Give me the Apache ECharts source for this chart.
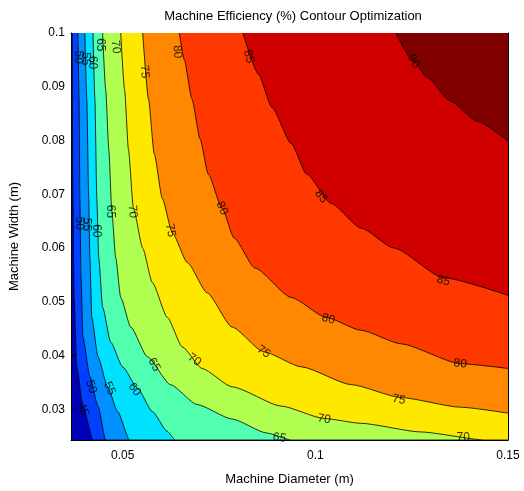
<!DOCTYPE html>
<html><head><meta charset="utf-8">
<script src="https://cdn.jsdelivr.net/npm/echarts@6/dist/echarts.min.js"></script>
<style>html,body{margin:0;background:#fff}#c{width:524px;height:491px}</style>
</head><body><div id="c"></div>
<script>
// Axis ranges and ticks (metres)
const xRange = [0.0366, 0.15];
const yRange = [0.0243, 0.1];
const xTicks = [0.05, 0.1, 0.15];
const yTicks = [0.03, 0.04, 0.05, 0.06, 0.07, 0.08, 0.09, 0.1];

// Contour levels (efficiency %)
const levels = [45, 50, 55, 60, 65, 70, 75, 80, 85, 90];

// Contour lines: [diameter, width]
const c45 = [[0.0369,0.1],[0.0371,0.0692],[0.0374,0.0508],[0.0381,0.0379],[0.0397,0.0306],[0.0423,0.0243]];
const c50 = [[0.0384,0.1],[0.0387,0.0877],[0.0389,0.0692],[0.0392,0.0545],[0.0397,0.0434],[0.0415,0.0361],[0.0436,0.0306],[0.0456,0.0243]];
const c55 = [[0.0402,0.1],[0.0407,0.0877],[0.0412,0.0692],[0.0415,0.0582],[0.0420,0.0471],[0.0436,0.0398],[0.0461,0.0342],[0.0487,0.0296],[0.0518,0.0243]];
const c60 = [[0.0423,0.1],[0.0428,0.0877],[0.0433,0.0692],[0.0438,0.0582],[0.0448,0.0490],[0.0469,0.0425],[0.0500,0.0379],[0.0539,0.0339],[0.0577,0.0296],[0.0616,0.0259],[0.0637,0.0243]];
const c65 = [[0.0448,0.1],[0.0456,0.0895],[0.0464,0.0784],[0.0472,0.0668],[0.0482,0.0582],[0.0495,0.0508],[0.0521,0.0453],[0.0564,0.0398],[0.0624,0.0346],[0.0693,0.0309],[0.0784,0.0282],[0.0874,0.0256],[0.0938,0.0243]];
const c70 = [[0.0495,0.1],[0.0505,0.0895],[0.0515,0.0784],[0.0528,0.0674],[0.0552,0.0600],[0.0577,0.0536],[0.0616,0.0471],[0.0655,0.0416],[0.0706,0.0376],[0.0784,0.0342],[0.0912,0.0306],[0.1023,0.0283],[0.1119,0.0274],[0.1273,0.0258],[0.1441,0.0243]];
const c75 = [[0.0552,0.1],[0.0567,0.0877],[0.0582,0.0775],[0.0603,0.0692],[0.0629,0.0628],[0.0668,0.0573],[0.0719,0.0517],[0.0784,0.0453],[0.0866,0.0407],[0.0964,0.0379],[0.1093,0.0346],[0.1222,0.0322],[0.1376,0.0304],[0.15,0.0293]];
const c80 = [[0.0647,0.1],[0.0660,0.0950],[0.0680,0.0877],[0.0701,0.0803],[0.0722,0.0738],[0.0758,0.0674],[0.0789,0.0619],[0.0843,0.0563],[0.0938,0.0508],[0.1028,0.0471],[0.1119,0.0447],[0.1222,0.0422],[0.1376,0.0385],[0.15,0.0376]];
const c85 = [[0.0812,0.1],[0.0853,0.0923],[0.0887,0.0862],[0.0938,0.0794],[0.0977,0.0738],[0.1041,0.0683],[0.1119,0.0637],[0.1204,0.0600],[0.1332,0.0545],[0.15,0.0512]];
const c90 = [[0.1209,0.1],[0.1255,0.0947],[0.1291,0.0917],[0.1351,0.0873],[0.1420,0.0836],[0.15,0.0799]];
const contours = [c45, c50, c55, c60, c65, c70, c75, c80, c85, c90];

// Band colours: below lowest level, then above each level
const bandColors = ['#0000b8', '#0040ff', '#0090ff', '#00e0ff', '#50ffb0', '#b0ff50', '#ffe800', '#ff8800', '#ff3800', '#d00000', '#800000'];

// Contour labels: [diameter, width, level] and their angles
const labelPts = [
  [0.1255,0.0947,90],[0.0827,0.0956,85],[0.1015,0.0696,85],[0.1332,0.0539,85],
  [0.0642,0.0965,80],[0.0758,0.0674,80],[0.1034,0.0468,80],[0.1376,0.0385,80],
  [0.0557,0.0928,75],[0.0624,0.0633,75],[0.0866,0.0407,75],[0.1217,0.0318,75],
  [0.0482,0.0974,70],[0.0526,0.0668,70],[0.0686,0.0392,70],[0.1023,0.0282,70],[0.1384,0.0247,70],
  [0.0443,0.0978,65],[0.0469,0.0668,65],[0.0582,0.0383,65],[0.0907,0.0247,65],
  [0.0531,0.0337,60],[0.0466,0.0339,55],[0.0418,0.0342,50],[0.0397,0.0300,45],
  [0.0385,0.0955,50],[0.0402,0.0952,55],[0.0422,0.0945,60],
  [0.0387,0.0646,50],[0.0405,0.0644,55],[0.0431,0.0632,60]
];
const labelRot = [-60,-75,-55,-15,-85,-65,-15,-5,-85,-80,-35,-10,-85,-85,-35,-10,0,-90,-90,-60,-10,-55,-65,-70,-70,-90,-90,-90,-90,-90,-90];

const chart = echarts.init(document.getElementById('c'), null, {renderer:'canvas'});
const font = '"Liberation Sans", Arial, sans-serif';
// a contour that leaves through the bottom edge keeps bounding its band along that edge
const closeBand = pts => {
  const last = pts[pts.length - 1];
  return last[1] <= yRange[0] + 1e-9 && last[0] < xRange[1] ? pts.concat([[xRange[1], yRange[0]]]) : pts;
};
const series = contours.map((pts, i) => ({
  type: 'line', data: closeBand(pts), symbol: 'none', smooth: 0.2, smoothMonotone: 'x',
  lineStyle: {color:'#000', width: 0.8},
  areaStyle: {color: bandColors[i+1], opacity: 1, origin: 'end'},
  z: 2 + i, silent: true, animation: false
}));
series.push({
  type: 'scatter', symbolSize: 0, z: 30, animation: false,
  data: labelPts.map((p, i) => ({value: [p[0], p[1]], name: String(p[2]), label: {rotate: labelRot[i]}})),
  label: {show: true, position: 'inside', formatter: p => p.name, color: '#000', fontSize: 12, fontFamily: font}
});
const axCommon = {
  type: 'value', splitLine: {show: false},
  axisLine: {show: true, lineStyle: {color: '#000', width: 1}},
  axisTick: {show: true, inside: true, length: 5, lineStyle: {color: '#000'}},
};
chart.setOption({
  animation: false,
  title: {text: 'Machine Efficiency (%) Contour Optimization', left: 288, top: 5, textAlign: 'center',
    textStyle: {fontSize: 13, fontWeight: 'normal', color: '#000', fontFamily: font}},
  grid: {left: 68, right: 16, top: 33, bottom: 47, show: true, backgroundColor: bandColors[0], borderWidth: 0},
  xAxis: [
    Object.assign({}, axCommon, {position: 'bottom', min: xRange[0], max: xRange[1],
      name: 'Machine Diameter (m)', nameLocation: 'middle', nameGap: 33,
      nameTextStyle: {fontSize: 13, color: '#000', fontFamily: font},
      axisTick: Object.assign({}, axCommon.axisTick, {customValues: xTicks}),
      axisLabel: {customValues: xTicks, color: '#000', fontSize: 12, fontFamily: font, margin: 10, formatter: v => String(+v.toFixed(2))}}),
    Object.assign({}, axCommon, {position: 'top', min: xRange[0], max: xRange[1],
      axisTick: Object.assign({}, axCommon.axisTick, {customValues: xTicks}),
      axisLabel: {show: false}})
  ],
  yAxis: [
    Object.assign({}, axCommon, {position: 'left', min: yRange[0], max: yRange[1],
      name: 'Machine Width (m)', nameLocation: 'middle', nameGap: 50,
      nameTextStyle: {fontSize: 13, color: '#000', fontFamily: font},
      axisTick: Object.assign({}, axCommon.axisTick, {customValues: yTicks}),
      axisLabel: {customValues: yTicks, color: '#000', fontSize: 12, fontFamily: font, margin: 6, formatter: v => String(+v.toFixed(2))}}),
    Object.assign({}, axCommon, {position: 'right', min: yRange[0], max: yRange[1],
      axisTick: Object.assign({}, axCommon.axisTick, {customValues: yTicks}),
      axisLabel: {show: false}})
  ],
  series: series
});
</script></body></html>
